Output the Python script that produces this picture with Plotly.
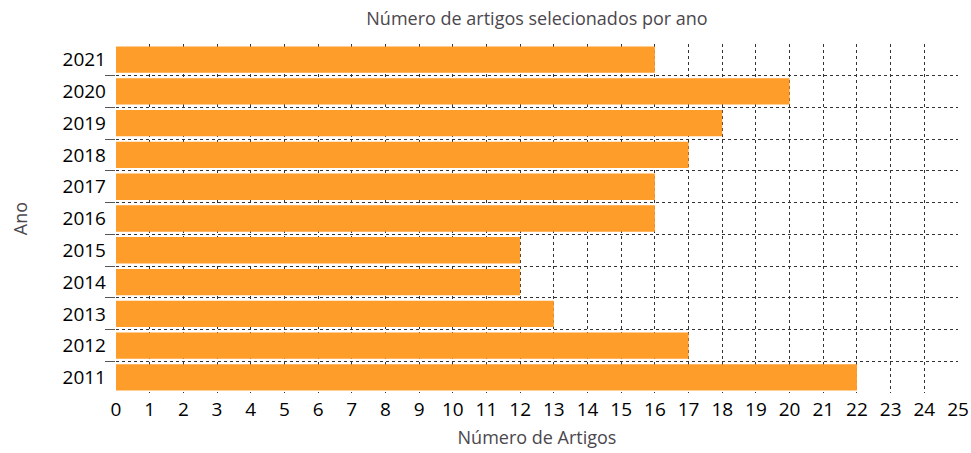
import plotly.graph_objects as go

years = ["2011", "2012", "2013", "2014", "2015", "2016", "2017", "2018", "2019", "2020", "2021"]
counts = [22, 17, 13, 12, 12, 16, 16, 17, 18, 20, 16]
x_ticks = list(range(0, 26))

fig = go.Figure(go.Bar(
    x=counts, y=years, orientation="h",
    marker=dict(color="#FF9D2B", line=dict(width=0)),
))

title_color = "#4b474d"
fig.update_layout(
    width=971, height=453,
    margin=dict(l=116, r=13, t=44, b=60),
    paper_bgcolor="white", plot_bgcolor="white",
    font=dict(family="Open Sans, sans-serif", color="black"),
    bargap=0.17,
    showlegend=False,
    title=dict(text="Número de artigos selecionados por ano", x=0.5, xref="paper",
               xanchor="center", y=0.958, yanchor="middle",
               font=dict(size=18, color=title_color)),
)
fig.update_xaxes(
    range=[0, 25], tickvals=x_ticks, ticktext=[str(v) for v in x_ticks],
    showgrid=True, gridcolor="#333333", griddash="dot", gridwidth=1,
    zeroline=False, showline=False, automargin=False,
    ticks="", ticklabelstandoff=3,
    tickfont=dict(size=19, color="black"),
    title=dict(text="Número de Artigos", font=dict(size=18, color=title_color), standoff=10),
)
fig.update_yaxes(
    type="category", categoryorder="array", categoryarray=years,
    range=[-0.49, 10.49],
    tickson="boundaries", ticks="outside", ticklen=10, tickcolor="#555555",
    ticklabelstandoff=9,
    showgrid=True, gridcolor="#333333", griddash="dot", gridwidth=1,
    zeroline=False, showline=False, automargin=False,
    tickfont=dict(size=19, color="black"),
    title=dict(text="Ano", font=dict(size=18, color=title_color), standoff=30),
)

fig.write_html("out.html", config={"displayModeBar": False},
               post_script="document.body.style.margin='0';document.body.style.overflow='hidden';")
